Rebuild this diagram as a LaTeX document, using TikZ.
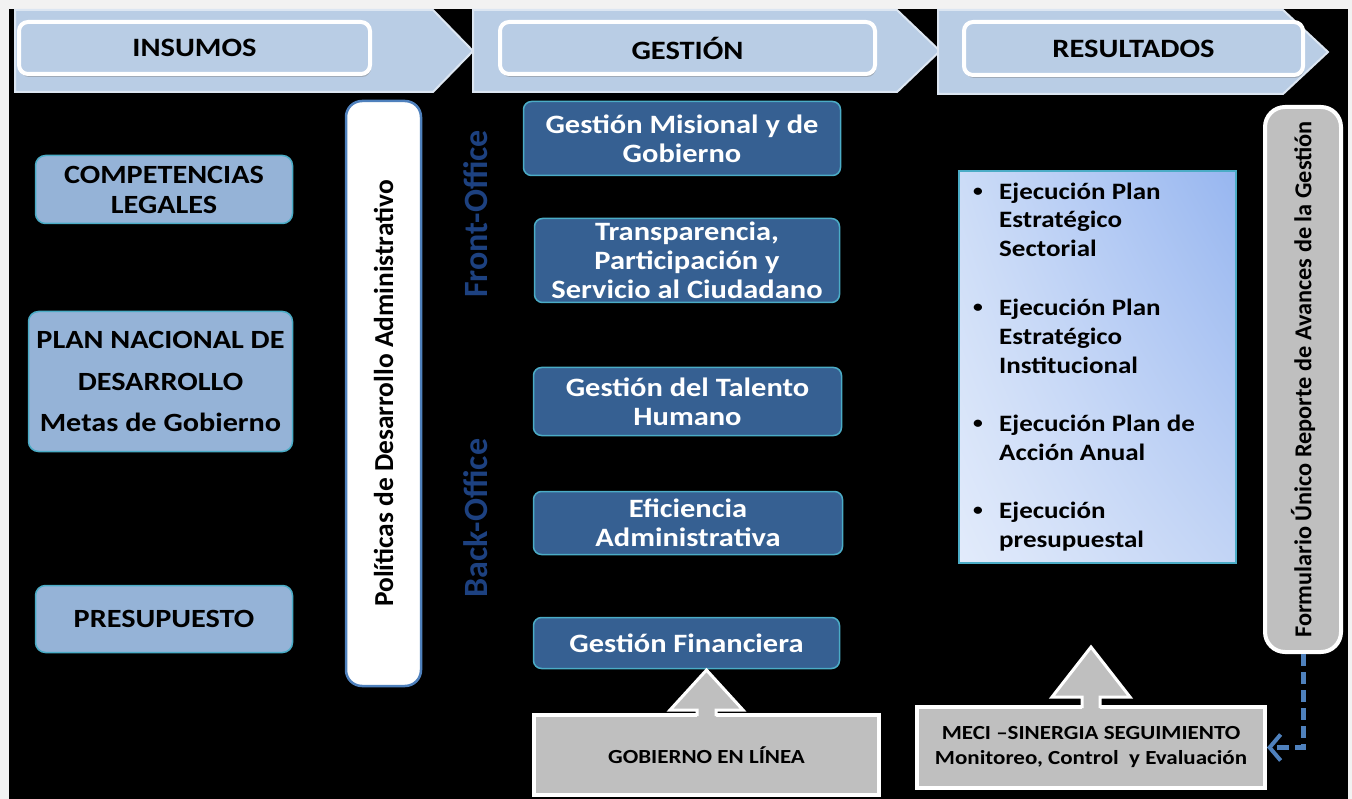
\documentclass[tikz,border=0pt]{standalone}
\usepackage{fontspec}
\setmainfont{Carlito}[FakeStretch=1.15]
\newfontfamily\vfont{Carlito}
\usetikzlibrary{shadows,shadings,arrows.meta}
\definecolor{bgg}{HTML}{F2F2F2}
\definecolor{chevfill}{HTML}{B9CDE5}
\definecolor{chevline}{HTML}{DCE6F2}
\definecolor{inblue}{HTML}{95B3D7}
\definecolor{teal1}{HTML}{4BACC6}
\definecolor{dkblue}{HTML}{366092}
\definecolor{polline}{HTML}{4F81BD}
\definecolor{office}{HTML}{1D4180}
\definecolor{gray1}{HTML}{BFBFBF}
\definecolor{resLL}{HTML}{E2EBFB}
\definecolor{resUL}{HTML}{CCDCF7}
\definecolor{resLR}{HTML}{C2D4F5}
\definecolor{resUR}{HTML}{97B6F0}
\definecolor{arrblue}{HTML}{4F81BD}
\newcommand{\blkarrow}[5]{%
  \begin{scope}[shift={(#1.north)}]
    \fill[gray1] (-#5,8) -- (-#5,#3) -- (-#4,#3) -- (0,#2) -- (#4,#3) -- (#5,#3) -- (#5,8) -- cycle;
    \draw[white,line width=3pt,line join=miter] (-#5,3) -- (-#5,#3) -- (-#4,#3) -- (0,#2) -- (#4,#3) -- (#5,#3) -- (#5,3);
  \end{scope}}
\tikzset{
  chev/.style={fill=chevfill, draw=chevline, line width=2pt, line join=miter},
  hdr/.style={fill=chevfill, draw=white, line width=4pt, rounded corners=9pt,
    drop shadow={shadow xshift=1pt,shadow yshift=-3pt,opacity=0.45},
    font=\fontsize{26.5}{30}\selectfont\bfseries, text=black},
  inbox/.style={fill=inblue, draw=teal1, line width=1.5pt, rounded corners=10pt,
    align=center, text=black, font=\fontsize{26.3}{30}\selectfont\bfseries},
  gbox/.style={fill=dkblue, draw=teal1, line width=1.5pt, rounded corners=8pt,
    align=center, text=white, font=\fontsize{26.5}{29}\selectfont\bfseries},
  graybox/.style={fill=gray1, draw=white, line width=4pt, align=center, text=black,
    font=\fontsize{20}{25}\selectfont\bfseries},
  restext/.style={anchor=base west, inner sep=0pt, text=black,
    font=\fontsize{23.5}{29}\selectfont\bfseries},
  bul/.style={anchor=base, inner sep=0pt, text=black,
    font=\fontsize{17}{20}\selectfont\bfseries},
  officetext/.style={rotate=90, anchor=base, inner sep=0pt, text=office,
    font=\vfont\fontsize{34}{38}\selectfont\bfseries},
  fdash/.style={draw=arrblue, line width=5pt, dash pattern=on 12pt off 6pt,
    -{Straight Barb[length=11pt,width=26pt,line width=4pt]}}
}
\begin{document}
\begin{tikzpicture}[x=1pt,y=-1pt]
\useasboundingbox (0,0) rectangle (1352,799);
\fill[bgg] (0,0) rectangle (1352,799);
\fill[black] (9,9) rectangle (1348,799);

% chevrons
\draw[chev] (15,10) -- (433,10) -- (473,51) -- (433,92) -- (15,92) -- cycle;
\draw[chev] (473,10) -- (897,10) -- (940,51) -- (897,92) -- (473,92) -- cycle;
\draw[chev] (938,10) -- (1283,10) -- (1328,52) -- (1283,94) -- (938,94) -- cycle;

% header boxes
\node[hdr, minimum width=351pt, minimum height=52pt] (hins) at (194.5,48) {INSUMOS};
\node[hdr, minimum width=375pt, minimum height=52pt] (hges) at (687.5,48) {GESTIÓN};
\node[hdr, minimum width=339pt, minimum height=53pt] (hres) at (1133.5,48.5) {RESULTADOS};

% left input boxes
\node[inbox, minimum width=257pt, minimum height=68pt] (comp) at (164,189.5) {COMPETENCIAS\\LEGALES};
\node[inbox, minimum width=264pt, minimum height=140pt, font=\fontsize{26.3}{41.5}\selectfont\bfseries] (plan) at (160.5,381.5) {PLAN NACIONAL DE\\DESARROLLO\\Metas de Gobierno};
\node[inbox, minimum width=257pt, minimum height=67pt] (pres) at (164,619) {PRESUPUESTO};

% policies bar
\node[rotate=90, fill=white, draw=polline, line width=2.5pt, rounded corners=16pt,
  minimum width=585pt, minimum height=75pt, text=black,
  font=\vfont\fontsize{27.4}{30}\selectfont\bfseries] (pol) at (383.5,393.5)
  {Políticas de Desarrollo Administrativo};

% front / back office
\node[officetext] (front) at (487,214) {Front-Office};
\node[officetext] (back) at (487,518) {Back-Office};

% management boxes
\node[gbox, minimum width=317pt, minimum height=74pt] (m1) at (682,138.5) {Gestión Misional y de\\Gobierno};
\node[gbox, minimum width=305pt, minimum height=84pt] (m2) at (687,260.5) {Transparencia,\\Participación y\\Servicio al Ciudadano};
\node[gbox, minimum width=308pt, minimum height=68pt] (m3) at (687.5,401.5) {Gestión del Talento\\Humano};
\node[gbox, minimum width=309pt, minimum height=63pt] (m4) at (688,523) {Eficiencia\\Administrativa};
\node[gbox, minimum width=306pt, minimum height=51pt] (m5) at (686.5,643) {Gestión Financiera};

% results box
\node[draw=teal1, line width=2pt, lower left=resLL, upper left=resUL, lower right=resLR,
  upper right=resUR, minimum width=277pt, minimum height=392pt] (res) at (1097.5,367) {};
\node[bul] (b1) at (978,196.5) {•};
\node[restext] (r1a) at (999,199.5) {Ejecución Plan};
\node[restext] (r1b) at (999,228) {Estratégico};
\node[restext] (r1c) at (999,256.5) {Sectorial};
\node[bul] (b2) at (978,312.5) {•};
\node[restext] (r2a) at (999,315.5) {Ejecución Plan};
\node[restext] (r2b) at (999,344.5) {Estratégico};
\node[restext] (r2c) at (999,373.5) {Institucional};
\node[bul] (b3) at (978,428.5) {•};
\node[restext] (r3a) at (999,431.5) {Ejecución Plan de};
\node[restext] (r3b) at (999,460.5) {Acción Anual};
\node[bul] (b4) at (978,515.5) {•};
\node[restext] (r4a) at (999,518.5) {Ejecución};
\node[restext] (r4b) at (999,547.5) {presupuestal};

% formulario bar
\node[rotate=90, fill=gray1, draw=white, line width=4pt, rounded corners=20pt,
  minimum width=545pt, minimum height=76pt, text=black,
  font=\vfont\fontsize{24.3}{28}\selectfont\bfseries] (form) at (1303,379.5)
  {Formulario Único Reporte de Avances de la Gestión};

% bottom gray boxes
\node[graybox, minimum width=345pt, minimum height=80pt] (gob) at (706.5,755) {GOBIERNO EN LÍNEA};
\node[graybox, minimum width=348pt, minimum height=81pt] (meci) at (1091,747.5) {MECI –SINERGIA SEGUIMIENTO\\Monitoreo, Control~ y Evaluación};

% block arrows
\blkarrow{gob}{-43}{-3}{36.5}{9.5}
\blkarrow{meci}{-58}{-8}{39}{9}

% dashed connector
\draw[fdash] (form.west) |- (meci.east);
\end{tikzpicture}
\end{document}
